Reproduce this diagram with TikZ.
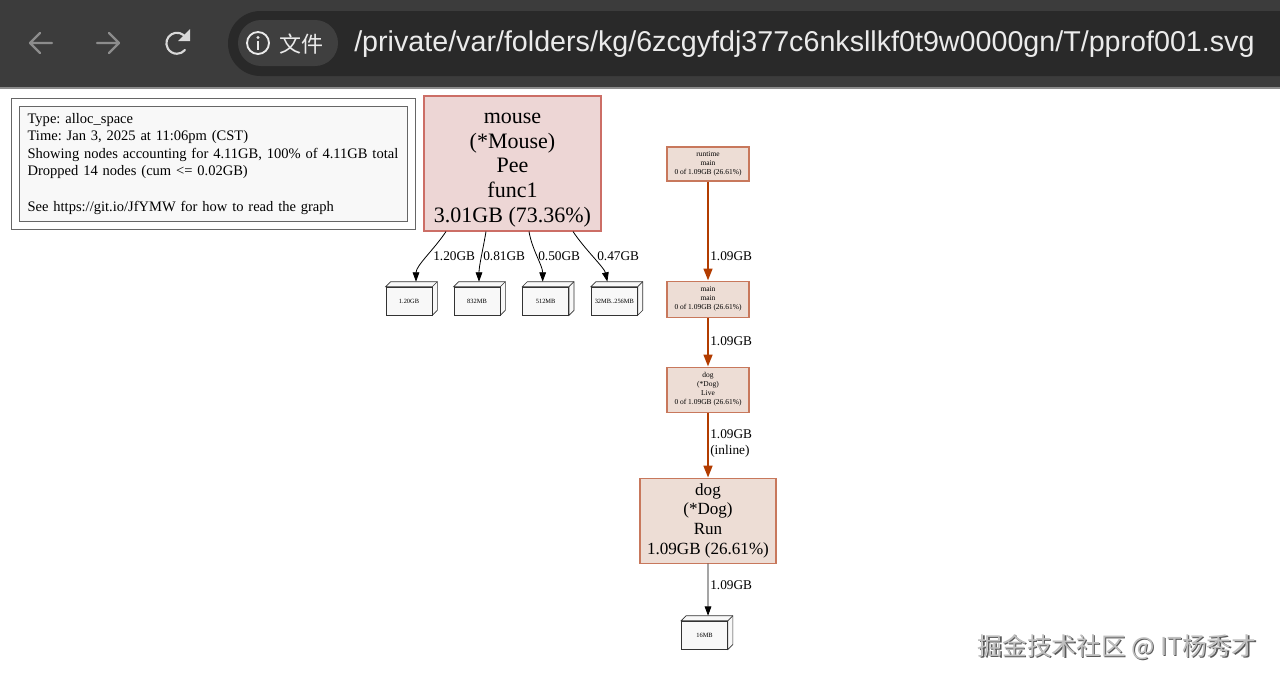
\documentclass[tikz,border=0pt]{standalone}
\usepackage{fontspec}
\setmainfont{Liberation Serif}
\newfontfamily\uifont{Liberation Sans}
\newfontfamily\cjkfont{Noto Sans CJK SC}
\usetikzlibrary{arrows.meta,positioning,fit,calc}
\frenchspacing

\definecolor{barbg}{HTML}{3C3C3C}
\definecolor{pillbg}{HTML}{292929}
\definecolor{chipbg}{HTML}{3F3F3F}
\definecolor{hotfill}{HTML}{EDD6D5}
\definecolor{hotline}{HTML}{CC6E66}
\definecolor{warmfill}{HTML}{EDDDD5}
\definecolor{warmline}{HTML}{C8785C}
\definecolor{edgebrown}{HTML}{B23C00}
\definecolor{boxfill}{HTML}{F8F8F8}

\begin{document}
\begin{tikzpicture}[
  x=0.75pt, y=-0.75pt,
  >={Triangle[length=7pt,width=5pt]},
  hot/.style={draw=hotline, fill=hotfill, line width=0.8pt, align=center, inner sep=0pt},
  warm/.style={draw=warmline, fill=warmfill, line width=0.8pt, align=center, inner sep=0pt},
  tiny/.style={font=\fontsize{5.6}{6.75}\selectfont},
  box3d/.style={draw=black!80, fill=boxfill, line width=0.5pt, minimum width=34.5pt, minimum height=21pt,
    inner sep=0pt, font=\fontsize{4.8}{6}\selectfont,
    append after command={\pgfextra{
      \filldraw[draw=black!80, fill=boxfill, line width=0.5pt] (\tikzlastnode.north west) -- ++(3.75pt,3.75pt)
        -| ($(\tikzlastnode.south east)+(3.75pt,3.75pt)$) -- (\tikzlastnode.south east) -- (\tikzlastnode.north east) -- cycle;
      \draw[black!80, line width=0.5pt] (\tikzlastnode.north east) -- ++(3.75pt,3.75pt);}}},
  lbl/.style={anchor=west, inner sep=0pt, align=left, font=\fontsize{10}{12}\selectfont},
  cold/.style={->, black, line width=0.6pt},
  heavy/.style={-{Triangle[length=9pt,width=6.5pt]}, draw=edgebrown, line width=1.8pt},
  icon/.style={line width=1.6pt, line cap=round, line join=round}
]
\useasboundingbox (0,0) rectangle (1280,682);
\fill[white] (0,0) rectangle (1280,682);

% browser bar
\fill[barbg] (0,0) rectangle (1280,88);
\draw[black!45, line width=1pt] (0,88) -- (1280,88);
\fill[pillbg, rounded corners=32.5*0.75pt] (228,11) rectangle (1320,76);
\fill[chipbg, rounded corners=23*0.75pt] (238,20) rectangle (338,66);
\draw[icon, black!45] (30,43) -- (52,43) (40,33) -- (30,43) -- (40,53);
\draw[icon, black!45] (97,43) -- (119,43) (109,33) -- (119,43) -- (109,53);
\draw[icon, black!15] (186,38) arc (-30:-320:10.5);
\fill[black!15] (190,29) -- (190,41) -- (178,41) -- cycle;
\draw[black!8, line width=1.4pt] (258,43) circle (11);
\fill[black!8] (258,37.5) circle (1.6);
\draw[black!8, line width=2pt] (258,41) -- (258,50);
\node[anchor=west, inner sep=0pt, text=black!8, font=\cjkfont\fontsize{16.5}{18}\selectfont] (scheme) at (279,44) {文件};
\node[anchor=west, inner sep=0pt, text=black!8, font=\uifont\fontsize{21.5}{24}\selectfont] (url) at (354,44)
  {/private/var/folders/kg/6zcgyfdj377c6nksllkf0t9w0000gn/T/pprof001.svg};

% legend
\node[draw=black!60, fill=boxfill, anchor=north west, text width=284pt, inner xsep=3.5pt, inner ysep=0pt,
      minimum height=86.25pt, align=left, font=\fontsize{10.9}{13.1}\selectfont,
      execute at begin node={\leftskip=2.75pt}] (legend) at (19,106)
  {Type: alloc\_space\\Time: Jan 3, 2025 at 11:06pm (CST)\\Showing nodes accounting for 4.11GB, 100\% of 4.11GB total\\
   Dropped 14 nodes (cum <= 0.02GB)\\[13.8pt]See https://git.io/JfYMW for how to read the graph};
\node[draw=black!60, fit=(legend), inner sep=5.5pt] (legendframe) {};

% mouse subtree
\node[hot, minimum width=132.75pt, minimum height=101.25pt, font=\fontsize{16.5}{18.6}\selectfont] (mouse)
  at (512.5,163.5) {\rule{0pt}{17.5pt}mouse\\(*Mouse)\\Pee\\func1\\3.01GB (73.36\%)};
\node[box3d] (b1) at (409,301) {1.20GB};
\node[box3d, right=16pt of b1] (b2) {832MB};
\node[box3d, right=16.5pt of b2] (b3) {512MB};
\node[box3d, right=16.5pt of b3] (b4) {32MB..256MB};

\draw[cold] ($(mouse.south)+(-66.5,0)$) .. controls +(-12,18) and +(0,-16) .. ($(b1.north)+(7,-5)$);
\draw[cold] ($(mouse.south)+(-26.5,0)$) .. controls +(-3,18) and +(0,-16) .. ($(b2.north)+(2,-5)$);
\draw[cold] ($(mouse.south)+(16.5,0)$) .. controls +(3,18) and +(0,-16) .. ($(b3.north)+(-3,-5)$);
\draw[cold] ($(mouse.south)+(60.5,0)$) .. controls +(12,18) and +(-3,-14) .. ($(b4.north)+(-7,-5)$);
\node[lbl] (l1) at (433,256) {1.20GB};
\node[lbl] (l2) at (483,256) {0.81GB};
\node[lbl] (l3) at (538,256) {0.50GB};
\node[lbl] (l4) at (597,256) {0.47GB};

% dog chain
\node[warm, tiny, minimum width=61.5pt, minimum height=25.5pt] (runtime) at (708,164) {runtime\\main\\0 of 1.09GB (26.61\%)};
\node[warm, tiny, minimum width=61.5pt, minimum height=27pt, below=74.25pt of runtime] (mainmain) {main\\main\\0 of 1.09GB (26.61\%)};
\node[warm, tiny, minimum width=61.5pt, minimum height=33.75pt, below=36.75pt of mainmain] (live) {dog\\(*Dog)\\Live\\0 of 1.09GB (26.61\%)};
\node[warm, minimum width=102pt, minimum height=63.75pt, below=48.75pt of live, font=\fontsize{12.8}{14.8}\selectfont] (run)
  {dog\\(*Dog)\\Run\\1.09GB (26.61\%)};
\node[box3d, below=42.75pt of run, xshift=-2.6pt] (leaf) {16MB};

\draw[heavy] (runtime) -- (mainmain);
\draw[heavy] (mainmain) -- (live);
\draw[heavy] (live) -- (run);
\draw[cold] (run.south) -- ($(leaf.north)+(3.5,-5)$);
\node[lbl] (h1) at (710,256) {1.09GB};
\node[lbl] (h2) at (710,341) {1.09GB};
\node[lbl] (h3) at (710,443) {1.09GB\\(inline)};
\node[lbl] (h4) at (710,585) {1.09GB};

% watermark
\node[text=black!65, font=\cjkfont\fontsize{18.5}{20}\selectfont] (markshade) at (1118.5,648.5) {掘金技术社区 @ IT杨秀才};
\node[text=black!25, font=\cjkfont\fontsize{18.5}{20}\selectfont] (mark) at (1117,647) {掘金技术社区 @ IT杨秀才};
\end{tikzpicture}
\end{document}
